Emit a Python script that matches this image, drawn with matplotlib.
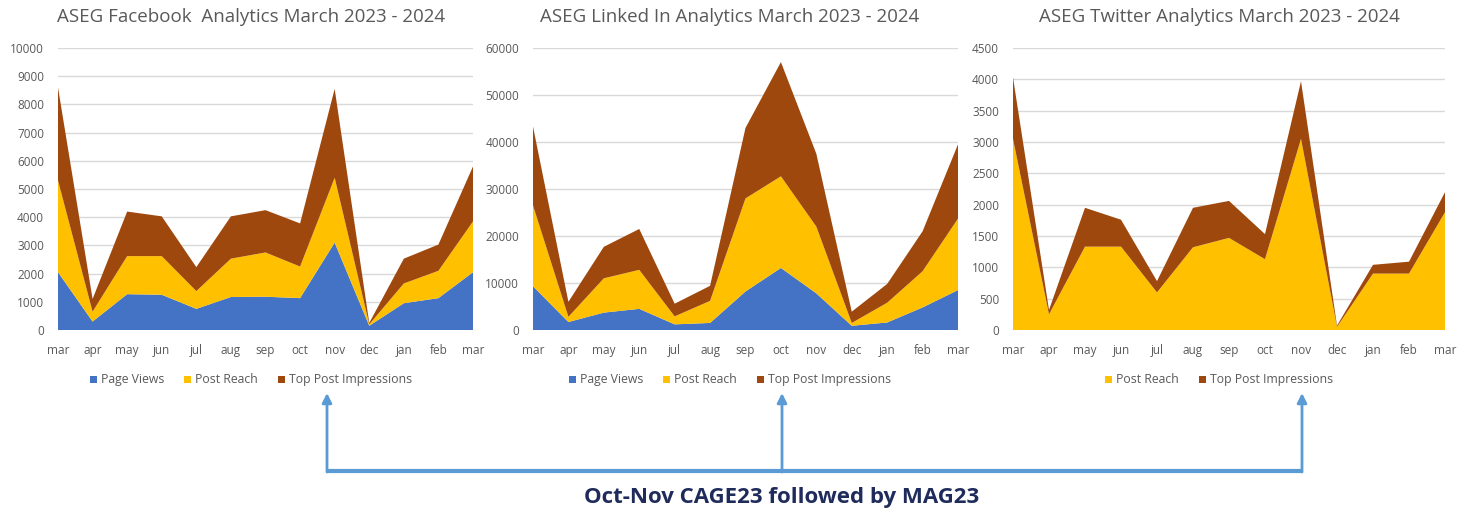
import matplotlib
matplotlib.use("Agg")
import matplotlib.pyplot as plt
from matplotlib.patches import Rectangle

# Month labels (March 2023 - March 2024)
months = ["mar", "apr", "may", "jun", "jul", "aug", "sep", "oct", "nov", "dec", "jan", "feb", "mar"]

# Facebook
fb_page_views = [2050, 300, 1270, 1250, 750, 1170, 1180, 1130, 3100, 150, 950, 1130, 2050]
fb_post_reach = [3250, 350, 1350, 1370, 630, 1360, 1570, 1120, 2300, 50, 700, 970, 1800]
fb_top_impr = [3300, 450, 1580, 1410, 850, 1500, 1500, 1530, 3150, 50, 880, 930, 1950]

# LinkedIn
li_page_views = [9300, 1700, 3700, 4500, 1200, 1500, 8200, 13200, 7800, 900, 1600, 4800, 8500]
li_post_reach = [17200, 1100, 7300, 8300, 1700, 4700, 19800, 19500, 14200, 600, 4200, 7700, 15200]
li_top_impr = [16800, 3200, 6700, 8700, 2700, 3200, 15000, 24300, 15500, 2400, 4000, 8500, 15800]

# Twitter
tw_post_reach = [3050, 250, 1330, 1330, 600, 1320, 1470, 1130, 3050, 50, 900, 900, 1880]
tw_top_impr = [980, 70, 620, 430, 180, 630, 590, 400, 920, 20, 140, 190, 320]

BLUE = "#4472C4"
YELLOW = "#FFC000"
BROWN = "#9E480E"
GRAY = "#595959"
ARROW = "#5B9BD5"

plt.rcParams["font.family"] = ["Open Sans", "DejaVu Sans"]

W, H = 1463, 515
fig = plt.figure(figsize=(W / 100, H / 100), dpi=100)


def px_axes(x0, x1, ytop, ybot):
    return fig.add_axes([x0 / W, 1 - ybot / H, (x1 - x0) / W, (ybot - ytop) / H])


def style(ax, ymax, step):
    ax.set_xlim(0, len(months) - 1)
    ax.set_ylim(0, ymax)
    ax.set_yticks(range(0, ymax + 1, step))
    ax.set_xticks(range(len(months)))
    ax.set_xticklabels(months)
    ax.tick_params(axis="both", length=0, labelsize=8.5, colors=GRAY)
    ax.tick_params(axis="y", pad=10)
    ax.tick_params(axis="x", pad=10)
    for s in ax.spines.values():
        s.set_visible(False)
    ax.grid(axis="y", color="#D9D9D9", linewidth=1)
    ax.set_axisbelow(True)


x = list(range(len(months)))

# Overlay in pixel coordinates for titles, legends and arrows
ov = fig.add_axes([0, 0, 1, 1], zorder=5)
ov.set_xlim(0, W)
ov.set_ylim(H, 0)
ov.axis("off")
ov.patch.set_alpha(0)

renderer = fig.canvas.get_renderer()


def draw_legend(cx, cy, labels, colors, size=8.8, box=7, gap=4, spacing=20):
    texts = [ov.text(0, 0, lab, fontsize=size, color=GRAY, va="baseline") for lab in labels]
    widths = [t.get_window_extent(renderer).width for t in texts]
    total = sum(box + gap + w for w in widths) + spacing * (len(labels) - 1)
    xpos = cx - total / 2
    for t, w, c in zip(texts, widths, colors):
        ov.add_patch(Rectangle((xpos, cy - box / 2), box, box, facecolor=c, edgecolor="none"))
        t.set_position((xpos + box + gap, cy + 4))
        xpos += box + gap + w + spacing


# (plot left, plot right, chart centre, title, ymax, step, series, colours, labels)
panels = [
    (58, 473, 251, "ASEG Facebook  Analytics March 2023 - 2024", 10000, 1000,
     [fb_page_views, fb_post_reach, fb_top_impr], [BLUE, YELLOW, BROWN],
     ["Page Views", "Post Reach", "Top Post Impressions"]),
    (533, 958, 730, "ASEG Linked In Analytics March 2023 - 2024", 60000, 10000,
     [li_page_views, li_post_reach, li_top_impr], [BLUE, YELLOW, BROWN],
     ["Page Views", "Post Reach", "Top Post Impressions"]),
    (1013, 1445, 1219, "ASEG Twitter Analytics March 2023 - 2024", 4500, 500,
     [tw_post_reach, tw_top_impr], [YELLOW, BROWN],
     ["Post Reach", "Top Post Impressions"]),
]

for x0, x1, cx, title, ymax, step, series, colors, labels in panels:
    ax = px_axes(x0, x1, 48, 330)
    ax.stackplot(x, *series, colors=colors, linewidth=0)
    style(ax, ymax, step)
    ov.text(cx, 17, title, ha="center", va="center", fontsize=13.5, color=GRAY)
    draw_legend(cx, 379, labels, colors)

arrow_xs = [327, 782, 1302]
ov.plot([arrow_xs[0], arrow_xs[-1]], [471, 471], color=ARROW, linewidth=3, solid_capstyle="butt")
for ax_x in arrow_xs:
    ov.annotate("", xy=(ax_x, 393), xytext=(ax_x, 472),
                arrowprops=dict(arrowstyle="-|>", color=ARROW, lw=2, mutation_scale=14,
                                shrinkA=0, shrinkB=0))

ov.text(782, 497, "Oct-Nov CAGE23 followed by MAG23", ha="center", va="center",
        fontsize=16, fontweight="bold", color="#1F2B5B")

fig.savefig("out.png", dpi=100)
